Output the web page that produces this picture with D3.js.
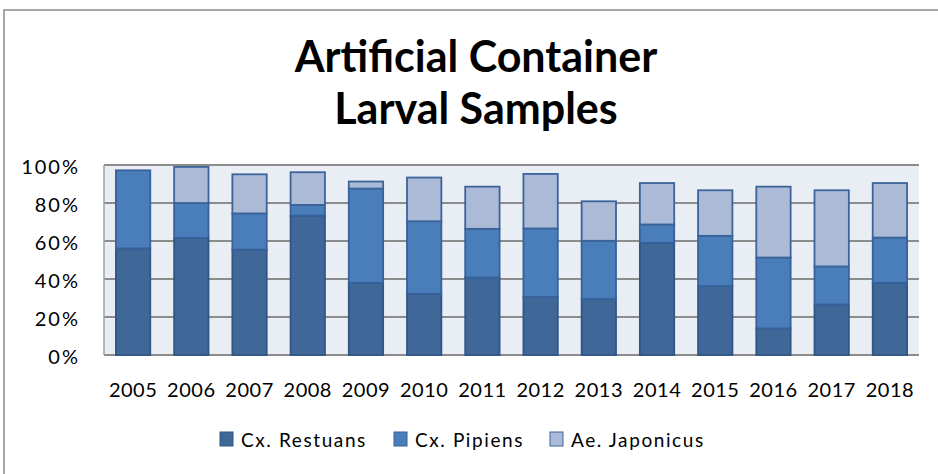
<!DOCTYPE html>
<html>
<head>
<meta charset="utf-8">
<script src="https://cdn.jsdelivr.net/npm/d3@7"></script>
<style>
  body { margin: 0; background: #fff; }
  text { font-family: Lato, "Open Sans", sans-serif; }
</style>
</head>
<body>
<div id="chart"></div>
<script>
// larval sample shares per year (percent)
var years = ["2005", "2006", "2007", "2008", "2009", "2010", "2011",
  "2012", "2013", "2014", "2015", "2016", "2017", "2018"];
var series_names = ["Cx. Restuans", "Cx. Pipiens", "Ae. Japonicus"];
var restuans = [56.1, 61.6, 55.5, 73.4, 38.0, 32.2, 40.8, 30.5, 29.4, 59.0, 36.3, 14.0, 26.6, 38.0];
var pipiens = [41.1, 18.4, 19.0, 5.6, 49.6, 38.2, 25.6, 36.1, 30.7, 9.7, 26.4, 37.3, 20.0, 23.8];
var japonicus = [0, 19.0, 20.6, 17.2, 3.7, 23.0, 22.2, 28.7, 20.8, 21.8, 24.0, 37.3, 40.1, 28.7];
var y_ticks = [0, 20, 40, 60, 80, 100];

var fills = ["#3f6899", "#4a7ebb", "#aabad7"];
var strokes = ["#2f5687", "#36619a", "#3c649a"];

var width = 938, height = 474;
var plot = { left: 104, right: 919, top: 165, bottom: 355 };

var svg = d3.select("#chart").append("svg")
  .attr("width", width).attr("height", height);

// outer frame (right and bottom edges run off the picture)
svg.append("rect")
  .attr("x", 4).attr("y", 10)
  .attr("width", 960).attr("height", 480)
  .attr("fill", "#fff").attr("stroke", "#a6a6a6").attr("stroke-width", 2);

// title
var title = svg.append("text")
  .attr("text-anchor", "middle")
  .style("font-weight", "bold").style("font-size", "43px").attr("fill", "#000");
title.append("tspan").attr("x", 476).attr("y", 72).text("Artificial Container");
title.append("tspan").attr("x", 476).attr("y", 124).text("Larval Samples");

var x = d3.scaleBand().domain(years).range([plot.left, plot.right])
  .paddingInner(0.41).paddingOuter(0.205);
var y = d3.scaleLinear().domain([0, 100]).range([plot.bottom, plot.top]);

// plot background
svg.append("rect")
  .attr("x", plot.left).attr("y", plot.top)
  .attr("width", plot.right - plot.left).attr("height", plot.bottom - plot.top)
  .attr("fill", "#e9edf4");

// gridlines
svg.append("g").selectAll("line").data(y_ticks).enter().append("line")
  .attr("x1", plot.left).attr("x2", plot.right)
  .attr("y1", function (d) { return y(d); }).attr("y2", function (d) { return y(d); })
  .attr("stroke", "#8c8c8c").attr("stroke-width", 2);

// left edge of plot
svg.append("line")
  .attr("x1", plot.left).attr("x2", plot.left)
  .attr("y1", plot.top).attr("y2", plot.bottom)
  .attr("stroke", "#a0a0a0").attr("stroke-width", 1.5);

// y axis labels
var yAxis = d3.axisLeft(y).tickValues(y_ticks)
  .tickFormat(function (d) { return d + "%"; }).tickSize(0).tickPadding(24);
var ya = svg.append("g").attr("transform", "translate(" + plot.left + ",0)").call(yAxis);
ya.select(".domain").remove();
ya.selectAll("text").style("font-size", "20px").attr("fill", "#000")
  .style("font-family", "Lato, sans-serif").style("letter-spacing", "2px")
  .attr("dy", "0.4em");

// stacked data
var rows = years.map(function (yr, i) {
  return { year: yr, r: restuans[i], p: pipiens[i], j: japonicus[i] };
});
var stack = d3.stack().keys(["r", "p", "j"]);
var layers = stack(rows);

svg.append("g").selectAll("g").data(layers).enter().append("g")
  .attr("fill", function (d, i) { return fills[i]; })
  .attr("stroke", function (d, i) { return strokes[i]; })
  .attr("stroke-width", 1.8)
  .selectAll("rect")
  .data(function (d) { return d.filter(function (v) { return v[1] - v[0] > 0; }); })
  .enter().append("rect")
  .attr("x", function (d) { return x(d.data.year); })
  .attr("width", x.bandwidth())
  .attr("y", function (d) { return y(d[1]); })
  .attr("height", function (d) { return y(d[0]) - y(d[1]); });

// x axis labels
var xAxis = d3.axisBottom(x).tickSize(0).tickPadding(28);
var xa = svg.append("g").attr("transform", "translate(0," + plot.bottom + ")").call(xAxis);
xa.select(".domain").remove();
xa.selectAll("text").style("font-size", "20px").attr("fill", "#000")
  .style("font-family", "Lato, sans-serif").style("letter-spacing", "0.5px");

// legend
var legend_x = [220, 394, 550];
var lg = svg.append("g").selectAll("g").data(series_names).enter().append("g")
  .attr("transform", function (d, i) { return "translate(" + legend_x[i] + ",432)"; });
lg.append("rect").attr("width", 13).attr("height", 14)
  .attr("fill", function (d, i) { return fills[i]; })
  .attr("stroke", function (d, i) { return strokes[i]; }).attr("stroke-width", 1);
lg.append("text").attr("x", 21).attr("y", 15)
  .style("font-size", "19px").style("letter-spacing", "1.6px").attr("fill", "#000")
  .text(function (d) { return d; });
</script>
</body>
</html>
